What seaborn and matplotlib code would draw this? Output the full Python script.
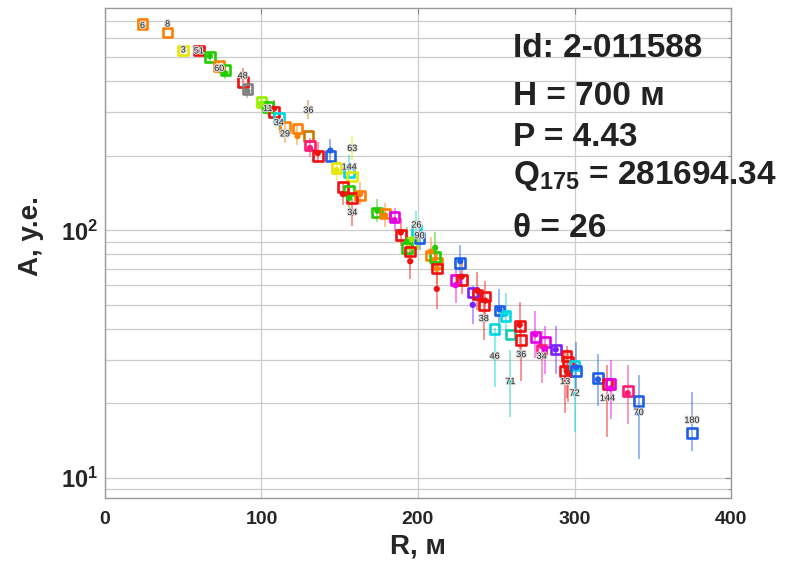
import numpy as np
import pandas as pd
import matplotlib
matplotlib.use("Agg")
import matplotlib.pyplot as plt
import matplotlib.patheffects as pe
from matplotlib.ticker import LogLocator, NullFormatter
import seaborn as sns

# ---- data ----
r_m = [24, 40, 50, 60, 67, 73, 77, 88, 91, 100, 104, 108, 111, 115, 123, 130,
       131, 136, 144, 148, 156, 158, 152, 156, 163, 158, 174, 179, 185, 189,
       193, 196, 201, 199, 195, 208, 212, 211, 212, 227, 224, 228, 235, 238,
       243, 242, 252, 256, 249, 259, 265, 266, 275, 281, 279, 288, 295, 296,
       294, 300, 301, 315, 321, 323, 334, 341, 375]
a_calc = [680, 630, 532, 532, 500, 460, 445, 398, 372, 330, 315, 300, 285, 262,
          258, 240, 220, 200, 200, 178, 171, 165, 150, 145, 138, 135, 118, 117,
          113, 96, 85, 89, 93, 100, 82, 79, 74, 78, 70, 74, 63, 63, 56, 55,
          54, 50, 47.5, 45, 40, 38, 41, 36, 37, 35.4, 33, 33, 31, 29.4, 27,
          28.5, 27, 25.3, 24, 24, 22.5, 20.5, 15.2]
a_meas = [670, 680, 535, 530, 505, 450, 430, 420, 365, 325, 310, 310, 272, 245,
          240, 305, 215, 205, 210, 175, 180, 214, 140, 135, 140, 118, 120, 115,
          110, 98, 90, 92, 95, 105, 75, 82, 70, 85, 58, 75, 60, 65, 50, 57,
          52, 44, 48, 46, 31, 24.5, 41.5, 31.5, 38, 33, 31, 33, 27, 26, 24.5,
          22, 28, 25, 21, 23, 22, 18.4, 17.1]
rel_err = [0.03, 0.04, 0.04, 0.04, 0.04, 0.05, 0.05, 0.06, 0.06, 0.06, 0.07,
           0.07, 0.07, 0.08, 0.08, 0.08, 0.08, 0.09, 0.09, 0.09, 0.1, 0.1, 0.1,
           0.1, 0.1, 0.12, 0.1, 0.1, 0.1, 0.12, 0.12, 0.12, 0.12, 0.12, 0.15,
           0.12, 0.13, 0.13, 0.17, 0.14, 0.15, 0.15, 0.16, 0.16, 0.17, 0.18,
           0.17, 0.18, 0.25, 0.28, 0.2, 0.22, 0.2, 0.2, 0.22, 0.2, 0.22, 0.22,
           0.25, 0.3, 0.22, 0.22, 0.3, 0.25, 0.25, 0.35, 0.25]
labels = ["6", "8", "3", "51", "", "60", "", "48", "", "", "11", "", "34", "29",
          "", "36", "", "", "", "", "144", "63", "", "", "", "34", "", "", "",
          "", "", "", "90", "26", "", "", "", "", "", "", "", "", "", "", "",
          "38", "", "", "46", "71", "", "36", "", "", "34", "", "", "", "13",
          "72", "", "", "144", "", "", "70", "180"]
colors = ["orange", "orange", "yellow", "red", "green", "orange", "green",
          "red", "grey", "lime", "green", "red", "cyan", "orange", "orange",
          "brown", "pink", "red", "blue", "yellow", "cyan", "yellow", "red",
          "green", "orange", "red", "green", "orange", "magenta", "red",
          "green", "lime", "blue", "cyan", "red", "orange", "orange", "green",
          "red", "blue", "magenta", "red", "purple", "red", "red", "red",
          "blue", "cyan", "cyan", "teal", "red", "red", "magenta", "magenta",
          "pink", "purple", "red", "red", "red", "cyan", "blue", "blue", "red",
          "magenta", "pink", "blue", "blue"]

info_lines = ["Id: 2-011588", "H = 700 м", "P = 4.43",
              "Q$_{175}$ = 281694.34", "θ = 26"]

palette = {"orange": "#ff7f00", "yellow": "#e6e600", "red": "#f01010",
           "green": "#22cc00", "grey": "#808080", "lime": "#99ee00",
           "cyan": "#00d8e0", "brown": "#cc7700", "pink": "#ff1a75",
           "blue": "#1f5fe8", "magenta": "#e600e6", "purple": "#7a1fff",
           "teal": "#10d0b0"}

df = pd.DataFrame({"R": r_m, "A": a_calc, "Am": a_meas, "err": rel_err,
                   "lab": labels, "col": colors})

sns.set_style("white")
plt.rcParams["font.family"] = ["Liberation Sans", "DejaVu Sans"]
plt.rcParams["font.weight"] = "bold"
plt.rcParams["mathtext.fontset"] = "custom"
plt.rcParams["mathtext.rm"] = "Liberation Sans:bold"
plt.rcParams["mathtext.it"] = "Liberation Sans:bold"
plt.rcParams["mathtext.bf"] = "Liberation Sans:bold"
plt.rcParams["mathtext.default"] = "rm"

fig = plt.figure(figsize=(7.88, 5.66), dpi=100)
ax = fig.add_axes([0.1332, 0.1201, 0.7945, 0.8658])
ax.set_yscale("log")
ax.set_xlim(0, 400)
ax.set_ylim(8.3, 790)

# grid
ax.yaxis.set_minor_locator(LogLocator(base=10, subs=np.arange(2, 10)))
ax.yaxis.set_minor_formatter(NullFormatter())
ax.grid(True, which="both", axis="y", color="#cccccc", lw=0.9)
ax.grid(True, which="major", axis="x", color="#cccccc", lw=0.9)
ax.set_axisbelow(True)

# error bars
for _, row in df.iterrows():
    c = palette[row["col"]]
    lo = row["Am"] * row["err"]
    hi = row["Am"] * row["err"] * 1.2
    ax.errorbar(row["R"], row["Am"], yerr=[[lo], [hi]], fmt="none",
                ecolor=c, alpha=0.45, lw=1.4, zorder=2)

pal = {k: palette[k] for k in set(colors)}
sns.scatterplot(data=df, x="R", y="A", hue="col", palette=pal, marker="s",
                s=48, linewidth=1.9, legend=False, ax=ax, zorder=3)
ax.collections[-1].set_facecolor("none")
ax.collections[-1].set_edgecolor([palette[c] for c in colors])
sns.scatterplot(data=df, x="R", y="Am", hue="col", palette=pal, marker="o",
                s=20, edgecolor="none", legend=False, ax=ax, zorder=4)

for _, row in df.iterrows():
    if row["lab"]:
        ax.text(row["R"], row["Am"], row["lab"], fontsize=6.5,
                fontweight="normal", color="#222222", ha="center",
                va="center", zorder=5,
                path_effects=[pe.withStroke(linewidth=1.5,
                                            foreground="#dddddd")])

# ticks
ax.set_xticks([0, 100, 200, 300, 400])
ax.set_yticks([10, 100])
ax.set_yticklabels(["$10^{1}$", "$10^{2}$"])
ax.tick_params(axis="both", which="both", direction="in", top=True,
               right=True, color="#888888")
ax.tick_params(axis="both", which="major", length=4)
ax.tick_params(axis="x", which="major", labelsize=14, pad=9)
ax.tick_params(axis="y", which="major", labelsize=17, pad=5)
ax.tick_params(axis="y", which="minor", length=2.5)
for lbl in ax.get_xticklabels():
    lbl.set_fontweight("bold")
for sp in ax.spines.values():
    sp.set_color("#999999")
    sp.set_linewidth(1.0)

ax.set_xlabel("R, м", fontsize=20, fontweight="bold", labelpad=4)
ax.set_ylabel("A, y.e.", fontsize=20, fontweight="bold")
ax.yaxis.set_label_coords(-0.098, 0.535)

ys = [0.918, 0.82, 0.735, 0.658, 0.55]
for t, yy in zip(info_lines, ys):
    ax.text(0.651, yy, t, transform=ax.transAxes, fontsize=24,
            fontweight="bold", color="#222222", ha="left", va="center",
            zorder=6)

fig.savefig("out.png", dpi=100)
